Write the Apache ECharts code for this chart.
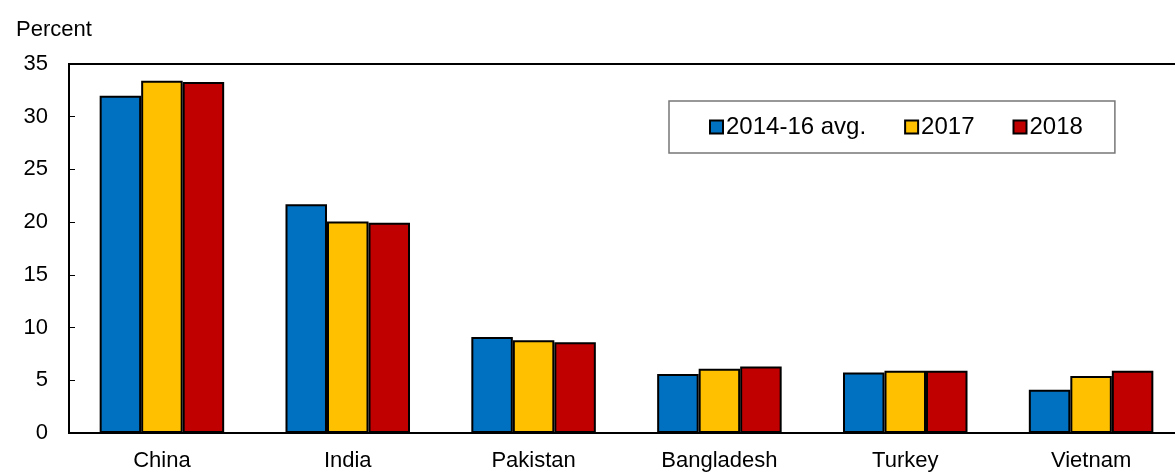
<!DOCTYPE html>
<html>
<head>
<meta charset="utf-8">
<script src="https://cdn.jsdelivr.net/npm/echarts@6/dist/echarts.min.js"></script>
<style>
  html, body { margin: 0; padding: 0; background: #fff; overflow: hidden; }
  #chart { width: 1175px; height: 472px; }
</style>
</head>
<body>
<div id="chart"></div>
<script>
// countries on the x axis
const countries = ['China', 'India', 'Pakistan', 'Bangladesh', 'Turkey', 'Vietnam']
// shares in percent
const avg1416 = [32.0, 21.7, 9.1, 5.6, 5.75, 4.1]
const y2017 = [33.4, 20.05, 8.8, 6.1, 5.9, 5.4]
const y2018 = [33.3, 19.95, 8.6, 6.3, 5.9, 5.9]

const chart = echarts.init(document.getElementById('chart'))

const font = 'Liberation Sans, Arial, sans-serif'

function barSeries(name, data, color) {
  return {
    name: name,
    type: 'bar',
    data: data,
    barGap: '0%',
    barCategoryGap: '33%',
    itemStyle: {
      color: color,
      borderColor: '#000',
      borderWidth: 2
    }
  }
}

const option = {
  animation: false,
  textStyle: { fontFamily: font, color: '#000' },
  // plot area runs past the right edge of the picture, as in the original
  grid: {
    left: 69,
    width: 1115,
    top: 64,
    bottom: 39,
    outerBoundsMode: 'none',
    show: true,
    borderColor: '#000',
    borderWidth: 2,
    containLabel: false
  },
  title: {
    text: 'Percent',
    left: 11,
    top: 14,
    textStyle: { fontSize: 22, fontWeight: 'normal', color: '#000', fontFamily: font }
  },
  legend: {
    data: ['2014-16 avg.', '2017', '2018'],
    left: 669,
    top: 101,
    orient: 'horizontal',
    icon: 'rect',
    itemWidth: 13,
    itemHeight: 13,
    itemGap: 38,
    padding: [14, 32, 14, 40],
    borderColor: '#777',
    borderWidth: 1.5,
    textStyle: { fontSize: 24, color: '#000', fontFamily: font, padding: [0, 0, 0, -2] }
  },
  xAxis: {
    type: 'category',
    data: countries,
    axisLine: { lineStyle: { color: '#000', width: 2 } },
    axisTick: { inside: true, length: 5, lineStyle: { color: '#000' } },
    axisLabel: { fontSize: 22, color: '#000', margin: 17, fontFamily: font }
  },
  yAxis: {
    type: 'value',
    min: 0,
    max: 35,
    interval: 5,
    splitLine: { show: false },
    axisLine: { show: true, lineStyle: { color: '#000', width: 2 } },
    axisTick: { show: true, inside: true, length: 6, lineStyle: { color: '#000' } },
    axisLabel: { fontSize: 22, color: '#000', margin: 21, fontFamily: font }
  },
  series: [
    barSeries('2014-16 avg.', avg1416, '#0070C0'),
    barSeries('2017', y2017, '#FFC000'),
    barSeries('2018', y2018, '#C00000')
  ]
}

chart.setOption(option)
</script>
</body>
</html>
